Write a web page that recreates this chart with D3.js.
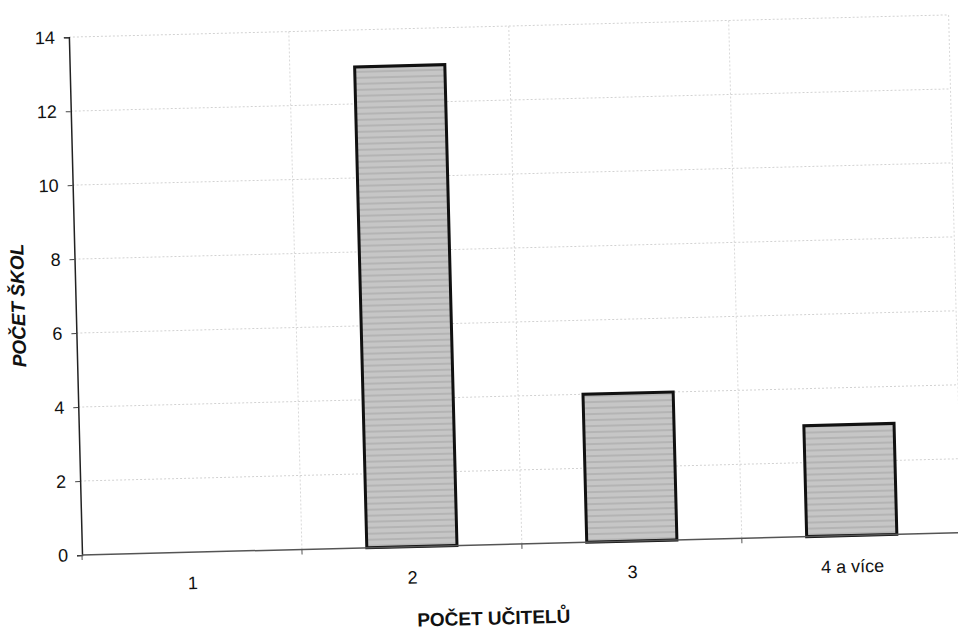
<!DOCTYPE html>
<html>
<head>
<meta charset="utf-8">
<script src="https://cdn.jsdelivr.net/npm/d3@7"></script>
<style>
  body { margin: 0; background: #fff; }
  text { font-family: "Liberation Sans", Arial, sans-serif; fill: #111; }
</style>
</head>
<body>
<svg id="chart"></svg>
<script>
const width = 958;
const height = 635;

// data
const categories = ["1", "2", "3", "4 a více"];
const values = [0, 13, 4, 3];
const yTicks = [0, 2, 4, 6, 8, 10, 12, 14];
const xTitle = "POČET UČITELŮ";
const yTitle = "POČET ŠKOL";

const svg = d3.select("#chart").attr("width", width).attr("height", height);

// the scan is slightly tilted, so rotate the whole plot around the origin
const ox = 82, oy = 555;
const plotW = 880, plotH = 518;
const g = svg.append("g")
  .attr("transform", `translate(${ox},${oy}) rotate(-1.45)`);

const x = d3.scaleBand().domain(categories).range([0, plotW]).paddingInner(0.59).paddingOuter(0.295);
const y = d3.scaleLinear().domain([0, 14]).range([0, -plotH]);

// striped fill like the printed bars
const defs = svg.append("defs");
const pat = defs.append("pattern")
  .attr("id", "stripes")
  .attr("width", 6).attr("height", 6)
  .attr("patternUnits", "userSpaceOnUse");
pat.append("rect").attr("width", 6).attr("height", 6).attr("fill", "#c6c6c6");
pat.append("rect").attr("y", 3).attr("width", 6).attr("height", 2).attr("fill", "#b4b4b4");

// horizontal gridlines
g.selectAll(".hgrid")
  .data(yTicks.filter((d) => d > 0))
  .enter()
  .append("line")
  .attr("class", "hgrid")
  .attr("x1", 0).attr("x2", plotW)
  .attr("y1", (d) => y(d)).attr("y2", (d) => y(d))
  .attr("stroke", "#d2d2d2")
  .attr("stroke-dasharray", "2,2");

// vertical gridlines between categories
const xb = d3.scaleLinear().domain([0, categories.length]).range([0, plotW]);
g.selectAll(".vgrid")
  .data(d3.range(1, categories.length + 1))
  .enter()
  .append("line")
  .attr("class", "vgrid")
  .attr("x1", (d) => xb(d))
  .attr("x2", (d) => xb(d))
  .attr("y1", 0).attr("y2", -plotH)
  .attr("stroke", "#d8d8d8")
  .attr("stroke-dasharray", "2,2");

// bars
const barData = categories.map((c, i) => ({ cat: c, val: values[i] })).filter((d) => d.val > 0);
g.selectAll(".bar")
  .data(barData)
  .enter()
  .append("rect")
  .attr("class", "bar")
  .attr("x", (d) => x(d.cat))
  .attr("y", (d) => y(d.val))
  .attr("width", x.bandwidth())
  .attr("height", (d) => -y(d.val))
  .attr("fill", "url(#stripes)")
  .attr("stroke", "#111")
  .attr("stroke-width", 3);

// y axis
const yAxis = d3.axisLeft(y).tickValues(yTicks).tickSize(5).tickPadding(9);
const ya = g.append("g").call(yAxis);
ya.select(".domain").attr("stroke", "#222").attr("stroke-width", 1.5);
ya.selectAll(".tick line").attr("stroke", "#444");
ya.selectAll("text").attr("font-size", 18);

// x axis with ticks at category boundaries
g.append("line")
  .attr("x1", 0).attr("x2", plotW)
  .attr("y1", 0).attr("y2", 0)
  .attr("stroke", "#555").attr("stroke-width", 1.5);
g.selectAll(".xtick")
  .data(d3.range(0, categories.length + 1))
  .enter()
  .append("line")
  .attr("x1", (d) => xb(d)).attr("x2", (d) => xb(d))
  .attr("y1", 0).attr("y2", 5)
  .attr("stroke", "#555");
g.selectAll(".xlabel")
  .data(categories)
  .enter()
  .append("text")
  .attr("x", (d) => x(d) + x.bandwidth() / 2)
  .attr("y", 37)
  .attr("text-anchor", "middle")
  .attr("font-size", 18)
  .text((d) => d);

// axis titles
g.append("text")
  .attr("x", 410)
  .attr("y", 80)
  .attr("text-anchor", "middle")
  .attr("font-size", 19)
  .attr("font-weight", "bold")
  .text(xTitle);

g.append("text")
  .attr("transform", `translate(-51,${-plotH / 2 + 8}) rotate(-90)`)
  .attr("text-anchor", "middle")
  .attr("font-size", 19)
  .attr("font-weight", "bold")
  .attr("font-style", "italic")
  .text(yTitle);
</script>
</body>
</html>
